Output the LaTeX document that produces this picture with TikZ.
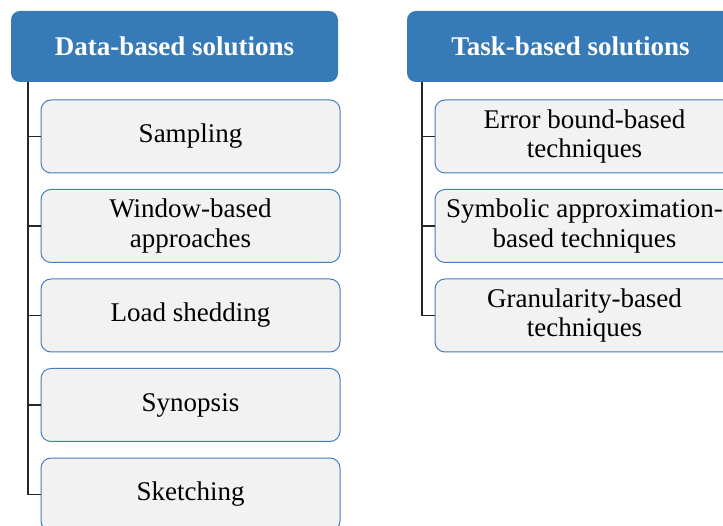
\documentclass[tikz,border=0pt]{standalone}
\usepackage{fontspec}
\setmainfont{Liberation Serif}
\definecolor{hdrblue}{RGB}{54,122,184}
\definecolor{itemfill}{RGB}{242,242,242}
\definecolor{itemedge}{RGB}{66,126,190}
\begin{document}
\begin{tikzpicture}[x=1pt,y=-1pt,
  header/.style={fill=hdrblue, rounded corners=9pt, minimum width=327pt,
    minimum height=71pt, inner sep=0pt, text=white,
    font=\fontsize{27}{30}\selectfont\bfseries},
  item/.style={draw=itemedge, line width=1pt, fill=itemfill, rounded corners=10pt,
    minimum width=299pt, minimum height=73pt, inner sep=0pt, align=center,
    font=\fontsize{27}{29.5}\selectfont},
  trunk/.style={line width=1.3pt, draw=black!85}]
\useasboundingbox (0,0) rectangle (723,526);
\clip (0,0) rectangle (723,526);

% data-based branch
\node[header] (dh) at (174.5,46.5) {Data-based solutions};
\node[item] (d1) at (190.5,136.5) {Sampling};
\node[item] (d2) at (190.5,226) {Window-based\\approaches};
\node[item] (d3) at (190.5,315.5) {Load shedding};
\node[item] (d4) at (190.5,405) {Synopsis};
\node[item] (d5) at (190.5,494.5) {Sketching};
\coordinate (dt) at (28,82);
\draw[trunk] (dt) |- (d5.west);
\foreach \n in {d1,d2,d3,d4}
  \draw[trunk] (dt |- \n.west) -- (\n.west);

% task-based branch
\node[header] (th) at (570.5,46.5) {Task-based solutions};
\node[item] (t1) at (584.5,136.5) {Error bound-based\\techniques};
\node[item] (t2) at (584.5,226) {Symbolic approximation-\\based techniques};
\node[item] (t3) at (584.5,315.5) {Granularity-based\\techniques};
\coordinate (tt) at (422,82);
\draw[trunk] (tt) |- (t3.west);
\foreach \n in {t1,t2}
  \draw[trunk] (tt |- \n.west) -- (\n.west);
\end{tikzpicture}
\end{document}
